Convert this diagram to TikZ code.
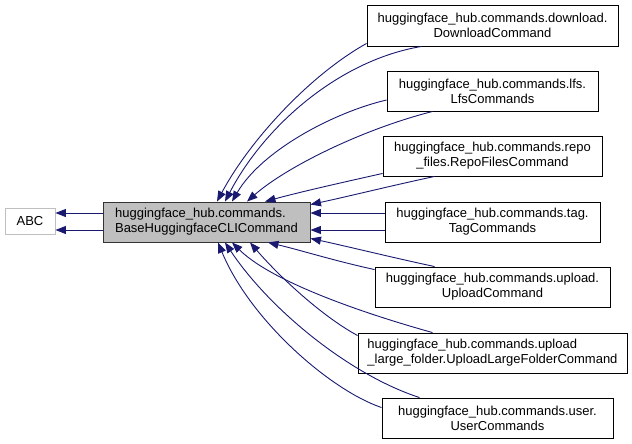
\documentclass[tikz,border=0pt]{standalone}
\usepackage{fontspec}
\setmainfont{Liberation Sans}
\usetikzlibrary{arrows.meta}
\definecolor{edgec}{HTML}{191970}
\definecolor{greyA}{HTML}{BFBFBF}
\begin{document}
\begin{tikzpicture}[x=1pt,y=-1pt,
  box/.style={draw=black, line width=0.9pt, fill=white, inner sep=0pt, align=center,
    font=\fontsize{13}{15}\selectfont},
  edge/.style={draw=edgec, line width=0.9pt, -{Triangle[length=10.5pt,width=8pt]}}]
\useasboundingbox (0,0) rectangle (632,444);
% nodes
\node[box, draw=greyA, minimum width=50pt, minimum height=26pt] (abc) at (30,221.5) {ABC};
\node[box, fill=greyA, draw=black!80, minimum width=207pt, minimum height=40pt, align=left] (base) at (206.5,222)
  {huggingface\_hub.commands.\\BaseHuggingfaceCLICommand};
\node[box, minimum width=251pt, minimum height=41pt] (dl) at (492.5,25.5)
  {huggingface\_hub.commands.download.\\DownloadCommand};
\node[box, minimum width=211pt, minimum height=40pt] (lfs) at (492.5,91)
  {huggingface\_hub.commands.lfs.\\LfsCommands};
\node[box, minimum width=219pt, minimum height=40pt] (repo) at (492.5,156)
  {huggingface\_hub.commands.repo\\\_files.RepoFilesCommand};
\node[box, minimum width=215pt, minimum height=40pt] (tag) at (492.5,222)
  {huggingface\_hub.commands.tag.\\TagCommands};
\node[box, minimum width=235pt, minimum height=40pt] (up) at (492.5,287)
  {huggingface\_hub.commands.upload.\\UploadCommand};
\node[box, minimum width=269pt, minimum height=40pt, align=left] (lf) at (492.5,353)
  {huggingface\_hub.commands.upload\\\_large\_folder.UploadLargeFolderCommand};
\node[box, minimum width=231pt, minimum height=40pt] (us) at (497.5,418)
  {huggingface\_hub.commands.user.\\UserCommands};
% edges to ABC
\draw[edge] ([yshift=9pt]base.west) -- ([yshift=8.5pt]abc.east);
\draw[edge] ([yshift=-8pt]base.west) -- ([yshift=-8.5pt]abc.east);
% download
\draw[edge] ([yshift=3pt]dl.south west) .. controls (310,75) and (250,140) .. ([xshift=10.5pt]base.north);
\draw[edge] ([xshift=55pt]dl.south west) .. controls (340,60) and (265,125) .. ([xshift=18.5pt]base.north);
% lfs
\draw[edge] ([yshift=-9pt]lfs.west) .. controls (335,112) and (262,150) .. ([xshift=25.5pt]base.north);
\draw[edge] ([xshift=46pt]lfs.south west) .. controls (360,130) and (285,168) .. ([xshift=40.5pt]base.north);
% repo
\draw[edge] ([yshift=3pt]repo.south west) .. controls (340,183) and (300,192) .. ([xshift=58.5pt]base.north);
\draw[edge] ([xshift=52pt]repo.south west) .. controls (390,186) and (350,196) .. ([yshift=-3pt]base.north east);
% tag
\draw[edge] ([yshift=9pt]tag.west) -- ([yshift=9pt]base.east);
\draw[edge] ([yshift=-8pt]tag.west) -- ([yshift=-8pt]base.east);
% upload
\draw[edge] ([xshift=60pt]up.north west) .. controls (390,257) and (350,247) .. ([yshift=4pt]base.south east);
\draw[edge] ([yshift=-3pt]up.north west) .. controls (335,261) and (300,250) .. ([xshift=61.5pt]base.south);
% large folder
\draw[edge] ([yshift=-3pt]lf.north west) .. controls (320,315) and (278,275) .. ([xshift=43.5pt]base.south);
\draw[edge] ([xshift=75pt]lf.north west) .. controls (380,318) and (275,285) .. ([xshift=25.5pt]base.south);
% user
\draw[edge] ([xshift=38pt]us.north west) .. controls (350,375) and (270,310) .. ([xshift=18.5pt]base.south);
\draw[edge] ([yshift=-10pt]us.north west) .. controls (330,390) and (250,320) .. ([xshift=11.5pt]base.south);
\end{tikzpicture}
\end{document}
